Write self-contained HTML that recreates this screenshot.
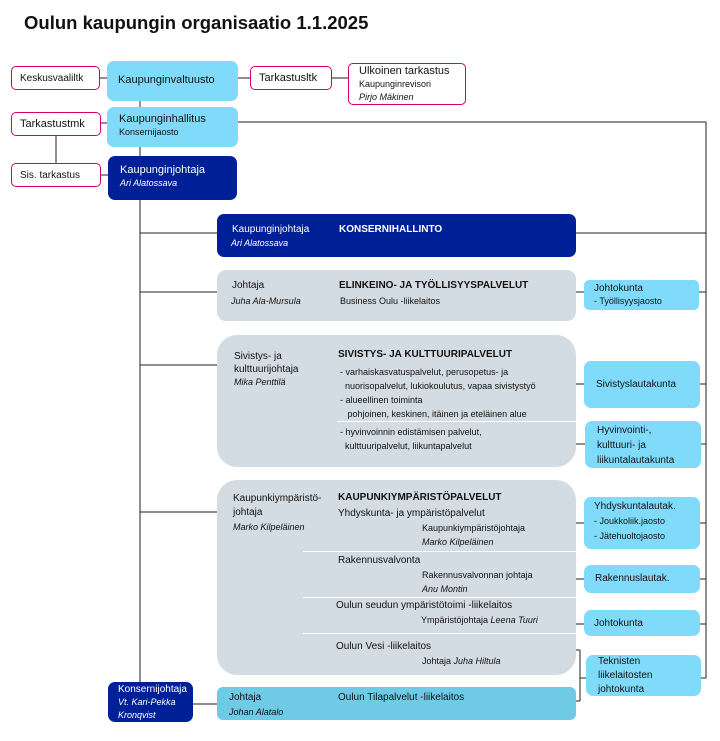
<!DOCTYPE html>
<html><head><meta charset="utf-8"><style>
body{margin:0;width:720px;height:741px;background:#fff;position:relative;overflow:hidden;font-family:"Liberation Sans",sans-serif;color:#111}
.b{position:absolute;box-sizing:border-box;font-size:10px;line-height:13px}
.p{border:1px solid #d4006f;border-radius:5px;background:#fff;padding:5px 8px}
.lb{background:#80dbfa;border-radius:7px}
.db{background:#002098;border-radius:7px;color:#fff}
.g{background:#d3dce2;border-radius:9px}
.t{position:absolute;font-size:10px;line-height:13px;white-space:nowrap}
i{font-style:italic}
.s{font-size:9px}
b{font-weight:bold}
</style></head><body>
<svg width="720" height="741" style="position:absolute;left:0;top:0">
<g stroke="#222" stroke-width="1" fill="none">
<line x1="100" y1="78" x2="107" y2="78"/><line x1="238" y1="78" x2="250" y2="78"/><line x1="332" y1="78" x2="348" y2="78"/>
<line x1="101" y1="123" x2="107" y2="123"/><line x1="56" y1="135" x2="56" y2="163"/><line x1="101" y1="175" x2="108" y2="175"/>
<line x1="140" y1="101" x2="140" y2="107"/><line x1="140" y1="147" x2="140" y2="156"/>
<line x1="238" y1="122" x2="706" y2="122"/><line x1="706" y1="122" x2="706" y2="678"/>
<line x1="140" y1="200" x2="140" y2="685"/>
<line x1="140" y1="233" x2="217" y2="233"/><line x1="576" y1="233" x2="706" y2="233"/>
<line x1="140" y1="292" x2="217" y2="292"/><line x1="576" y1="292" x2="584" y2="292"/><line x1="699" y1="292" x2="706" y2="292"/>
<line x1="140" y1="365" x2="217" y2="365"/><line x1="576" y1="384" x2="584" y2="384"/><line x1="700" y1="384" x2="706" y2="384"/>
<line x1="576" y1="444" x2="585" y2="444"/><line x1="701" y1="444" x2="706" y2="444"/>
<line x1="140" y1="512" x2="217" y2="512"/><line x1="576" y1="523" x2="584" y2="523"/><line x1="700" y1="523" x2="706" y2="523"/>
<line x1="576" y1="579" x2="584" y2="579"/><line x1="700" y1="579" x2="706" y2="579"/>
<line x1="576" y1="624" x2="584" y2="624"/><line x1="700" y1="624" x2="706" y2="624"/>
<line x1="576" y1="650" x2="580" y2="650"/><line x1="580" y1="650" x2="580" y2="701"/><line x1="576" y1="701" x2="580" y2="701"/><line x1="580" y1="678" x2="586" y2="678"/><line x1="701" y1="678" x2="706" y2="678"/>
<line x1="193" y1="704" x2="217" y2="704"/>
</g></svg>
<div class="t" style="left:24px;top:11px;font-size:18.5px;line-height:24px;font-weight:bold">Oulun kaupungin organisaatio 1.1.2025</div>

<div class="b p" style="left:11px;top:66px;width:89px;height:24px">Keskusvaaliltk</div>
<div class="b lb" style="left:107px;top:61px;width:131px;height:40px;padding:13px 11px;font-size:11px">Kaupunginvaltuusto</div>
<div class="b p" style="left:250px;top:66px;width:82px;height:24px;font-size:11px">Tarkastusltk</div>
<div class="b p" style="left:348px;top:63px;width:118px;height:42px;padding:1px 10px;line-height:13px"><span style="font-size:11px">Ulkoinen tarkastus</span><br><span class="s">Kaupunginrevisori</span><br><i class="s">Pirjo Mäkinen</i></div>
<div class="b p" style="left:11px;top:112px;width:90px;height:24px;font-size:11px">Tarkastustmk</div>
<div class="b lb" style="left:107px;top:107px;width:131px;height:40px;padding:6px 12px"><span style="font-size:11px">Kaupunginhallitus</span><br><span class="s">Konsernijaosto</span></div>
<div class="b p" style="left:11px;top:163px;width:90px;height:24px">Sis. tarkastus</div>
<div class="b db" style="left:108px;top:156px;width:129px;height:44px;padding:8px 12px"><span style="font-size:11px">Kaupunginjohtaja</span><br><i class="s">Ari Alatossava</i></div>

<div class="b db" style="left:217px;top:214px;width:359px;height:43px"></div>
<div class="t" style="left:232px;top:223px;color:#fff">Kaupunginjohtaja</div>
<div class="t" style="left:231px;top:237px;color:#fff"><i class="s">Ari Alatossava</i></div>
<div class="t" style="left:339px;top:223px;color:#fff"><b>KONSERNIHALLINTO</b></div>

<div class="b g" style="left:217px;top:270px;width:359px;height:51px"></div>
<div class="t" style="left:232px;top:279px">Johtaja</div>
<div class="t" style="left:231px;top:295px"><i class="s">Juha Ala-Mursula</i></div>
<div class="t" style="left:339px;top:279px"><b>ELINKEINO- JA TYÖLLISYYSPALVELUT</b></div>
<div class="t s" style="left:340px;top:295px">Business Oulu -liikelaitos</div>
<div class="b lb" style="left:584px;top:280px;width:115px;height:30px;padding:2px 10px;border-radius:5px">Johtokunta<br><span class="s">- Työllisyysjaosto</span></div>

<div class="b g" style="left:217px;top:335px;width:359px;height:132px;border-radius:20px"></div>
<div style="position:absolute;left:337px;top:421px;width:239px;height:1px;background:#fff"></div>
<div class="t" style="left:234px;top:350px">Sivistys- ja<br>kulttuurijohtaja<br><i class="s">Mika Penttilä</i></div>
<div class="t" style="left:338px;top:348px"><b>SIVISTYS- JA KULTTUURIPALVELUT</b></div>
<div class="t s" style="left:340px;top:365px;line-height:14px">- varhaiskasvatuspalvelut, perusopetus- ja<br>&nbsp;&nbsp;nuorisopalvelut, lukiokoulutus, vapaa sivistystyö<br>- alueellinen toiminta<br>&nbsp;&nbsp;&nbsp;pohjoinen, keskinen, itäinen ja eteläinen alue</div>
<div class="t s" style="left:340px;top:425px;line-height:14px">- hyvinvoinnin edistämisen palvelut,<br>&nbsp;&nbsp;kulttuuripalvelut, liikuntapalvelut</div>
<div class="b lb" style="left:584px;top:361px;width:116px;height:47px;padding:17px 12px">Sivistyslautakunta</div>
<div class="b lb" style="left:585px;top:421px;width:116px;height:47px;padding:2px 12px;line-height:15px">Hyvinvointi-,<br>kulttuuri- ja<br>liikuntalautakunta</div>

<div class="b g" style="left:217px;top:480px;width:359px;height:195px;border-radius:20px"></div>
<div style="position:absolute;left:303px;top:551px;width:273px;height:1px;background:#fff"></div>
<div style="position:absolute;left:303px;top:597px;width:273px;height:1px;background:#fff"></div>
<div style="position:absolute;left:303px;top:633px;width:273px;height:1px;background:#fff"></div>
<div class="t" style="left:233px;top:492px;line-height:14px">Kaupunkiympäristö-<br>johtaja<br><i class="s">Marko Kilpeläinen</i></div>
<div class="t" style="left:338px;top:491px"><b>KAUPUNKIYMPÄRISTÖPALVELUT</b></div>
<div class="t" style="left:338px;top:507px">Yhdyskunta- ja ympäristöpalvelut</div>
<div class="t s" style="left:422px;top:521px;line-height:14px">Kaupunkiympäristöjohtaja<br><i>Marko Kilpeläinen</i></div>
<div class="t" style="left:338px;top:554px">Rakennusvalvonta</div>
<div class="t s" style="left:422px;top:568px;line-height:14px">Rakennusvalvonnan johtaja<br><i>Anu Montin</i></div>
<div class="t" style="left:336px;top:599px">Oulun seudun ympäristötoimi -liikelaitos</div>
<div class="t s" style="left:421px;top:614px">Ympäristöjohtaja <i>Leena Tuuri</i></div>
<div class="t" style="left:336px;top:640px">Oulun Vesi -liikelaitos</div>
<div class="t s" style="left:422px;top:655px">Johtaja <i>Juha Hiltula</i></div>

<div class="b lb" style="left:584px;top:497px;width:116px;height:52px;padding:3px 10px;line-height:14px">Yhdyskuntalautak.<br><span class="s">- Joukkoliik.jaosto<br>- Jätehuoltojaosto</span></div>
<div class="b lb" style="left:584px;top:565px;width:116px;height:28px;padding:7px 11px">Rakennuslautak.</div>
<div class="b lb" style="left:584px;top:610px;width:116px;height:26px;padding:7px 10px">Johtokunta</div>
<div class="b lb" style="left:586px;top:655px;width:115px;height:41px;padding:0 12px;line-height:14px">Teknisten<br>liikelaitosten<br>johtokunta</div>

<div class="b db" style="left:108px;top:682px;width:85px;height:40px;padding:1px 10px;line-height:13px">Konsernijohtaja<br><i class="s">Vt. Kari-Pekka<br>Kronqvist</i></div>
<div class="b" style="left:217px;top:687px;width:359px;height:33px;background:#6fcae6;border-radius:6px"></div>
<div class="t" style="left:229px;top:691px">Johtaja</div>
<div class="t s" style="left:229px;top:706px"><i>Johan Alatalo</i></div>
<div class="t" style="left:338px;top:691px">Oulun Tilapalvelut -liikelaitos</div>
</body></html>
